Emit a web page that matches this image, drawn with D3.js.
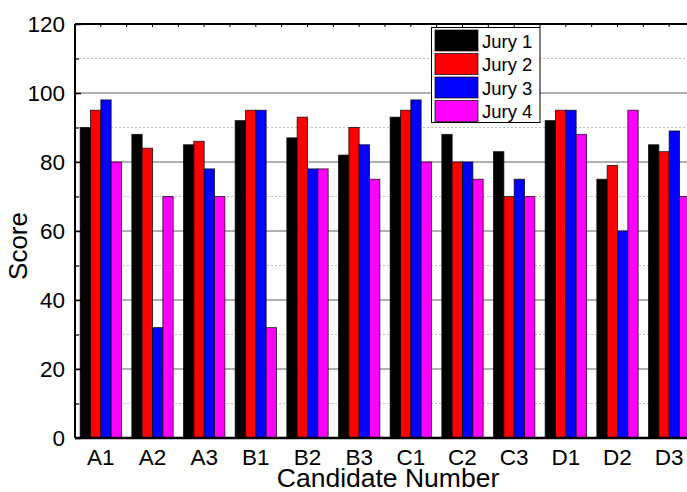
<!DOCTYPE html>
<html>
<head>
<meta charset="utf-8">
<script src="https://cdn.jsdelivr.net/npm/d3@7"></script>
<style>
  html, body { margin: 0; padding: 0; background: #fff; }
  svg { display: block; font-family: "Liberation Sans", Arial, sans-serif; }
</style>
</head>
<body>
<svg id="chart" width="687" height="492"></svg>
<script>
// Candidates and the four jury scores for each
const candidates = ["A1", "A2", "A3", "B1", "B2", "B3", "C1", "C2", "C3", "D1", "D2", "D3"];
const jury1 = [90, 88, 85, 92, 87, 82, 93, 88, 83, 92, 75, 85];
const jury2 = [95, 84, 86, 95, 93, 90, 95, 80, 70, 95, 79, 83];
const jury3 = [98, 32, 78, 95, 78, 85, 98, 80, 75, 95, 60, 89];
const jury4 = [80, 70, 70, 32, 78, 75, 80, 75, 70, 88, 95, 70];
const seriesNames = ["Jury 1", "Jury 2", "Jury 3", "Jury 4"];
const seriesColors = ["#000000", "#ff0000", "#0000ff", "#ff00ff"];
const yMajorTicks = [0, 20, 40, 60, 80, 100, 120];
const yMinorTicks = [10, 30, 50, 70, 90, 110];

const series = [jury1, jury2, jury3, jury4];

const svg = d3.select("#chart");
const plotLeft = 75, plotRight = 695, plotTop = 24, plotBottom = 438;

const x = d3.scaleBand().domain(candidates).range([plotLeft, plotRight])
  .paddingInner(0.2).paddingOuter(0.1);
const xSub = d3.scaleBand().domain(d3.range(series.length)).range([0, x.bandwidth()]);
const y = d3.scaleLinear().domain([0, 120]).range([plotBottom, plotTop]);

// Grid lines
svg.append("g").selectAll("line").data(yMinorTicks).join("line")
  .attr("x1", plotLeft).attr("x2", plotRight)
  .attr("y1", d => y(d)).attr("y2", d => y(d))
  .attr("stroke", "#bdbdbd").attr("stroke-width", 1).attr("stroke-dasharray", "2,2");
svg.append("g").selectAll("line").data(yMajorTicks.filter(d => d > 0 && d < 120)).join("line")
  .attr("x1", plotLeft).attr("x2", plotRight)
  .attr("y1", d => y(d)).attr("y2", d => y(d))
  .attr("stroke", "#b0b0b0").attr("stroke-width", 2);

// Bars
const rows = [];
candidates.forEach((c, i) => series.forEach((s, k) => rows.push({ c, k, v: s[i] })));
svg.append("g").selectAll("rect").data(rows).join("rect")
  .attr("x", d => x(d.c) + xSub(d.k))
  .attr("y", d => y(d.v))
  .attr("width", xSub.bandwidth())
  .attr("height", d => y(0) - y(d.v))
  .attr("fill", d => seriesColors[d.k])
  .attr("stroke", "#000").attr("stroke-opacity", 0.7).attr("stroke-width", 1);

// Left axis: inward ticks, labels outside
svg.append("g").attr("transform", `translate(${plotLeft},0)`)
  .call(d3.axisRight(y).tickValues(yMajorTicks).tickSize(6).tickFormat(""))
  .call(g => g.select(".domain").remove())
  .selectAll(".tick line").attr("stroke", "#000").attr("stroke-width", 1.5);
svg.append("g").attr("transform", `translate(${plotLeft},0)`)
  .call(d3.axisRight(y).tickValues(yMinorTicks).tickSize(4).tickFormat(""))
  .call(g => g.select(".domain").remove())
  .selectAll(".tick line").attr("stroke", "#000").attr("stroke-width", 1.2);
svg.append("g").selectAll("text").data(yMajorTicks).join("text")
  .attr("x", plotLeft - 10).attr("y", d => y(d))
  .attr("text-anchor", "end").attr("dy", "0.35em")
  .attr("font-size", 22.5).attr("fill", "#000")
  .text(d => d);

// Top axis ticks at group centres and boundaries
const topTicks = [];
candidates.forEach(c => {
  topTicks.push(x(c) + x.bandwidth() / 2);
  topTicks.push(x(c) - x.step() * x.paddingInner() / 2);
});
svg.append("g").selectAll("line").data(topTicks).join("line")
  .attr("x1", d => d).attr("x2", d => d)
  .attr("y1", plotTop).attr("y2", plotTop + 3)
  .attr("stroke", "#000").attr("stroke-width", 1);

// Frame
svg.append("line").attr("x1", plotLeft).attr("x2", plotRight).attr("y1", plotTop).attr("y2", plotTop)
  .attr("stroke", "#000").attr("stroke-width", 2);
svg.append("line").attr("x1", plotLeft).attr("x2", plotRight).attr("y1", plotBottom).attr("y2", plotBottom)
  .attr("stroke", "#000").attr("stroke-width", 2.5);
svg.append("line").attr("x1", plotLeft).attr("x2", plotLeft).attr("y1", plotTop).attr("y2", plotBottom)
  .attr("stroke", "#000").attr("stroke-width", 2);

// Category labels
svg.append("g").selectAll("text").data(candidates).join("text")
  .attr("x", d => x(d) + x.bandwidth() / 2).attr("y", 465)
  .attr("text-anchor", "middle").attr("font-size", 22.5).attr("fill", "#000")
  .text(d => d);

// Axis titles
svg.append("text").attr("x", 388).attr("y", 486.5)
  .attr("text-anchor", "middle").attr("font-size", 26.5).attr("fill", "#000")
  .text("Candidate Number");
svg.append("text")
  .attr("transform", "translate(27,246) rotate(-90)")
  .attr("text-anchor", "middle").attr("font-size", 26).attr("fill", "#000")
  .text("Score");

// Legend
const legend = svg.append("g");
legend.append("rect").attr("x", 431.5).attr("y", 27.5).attr("width", 108.5).attr("height", 95)
  .attr("fill", "#fff").attr("stroke", "#000").attr("stroke-width", 1);
seriesNames.forEach((name, k) => {
  const yy = 30 + k * 23.5;
  legend.append("rect").attr("x", 435).attr("y", yy).attr("width", 43).attr("height", 21)
    .attr("fill", seriesColors[k]).attr("stroke", "#000").attr("stroke-opacity", 0.7);
  legend.append("text").attr("x", 482).attr("y", yy + 17.5)
    .attr("font-size", 18.5).attr("fill", "#000").text(name);
});
</script>
</body>
</html>
